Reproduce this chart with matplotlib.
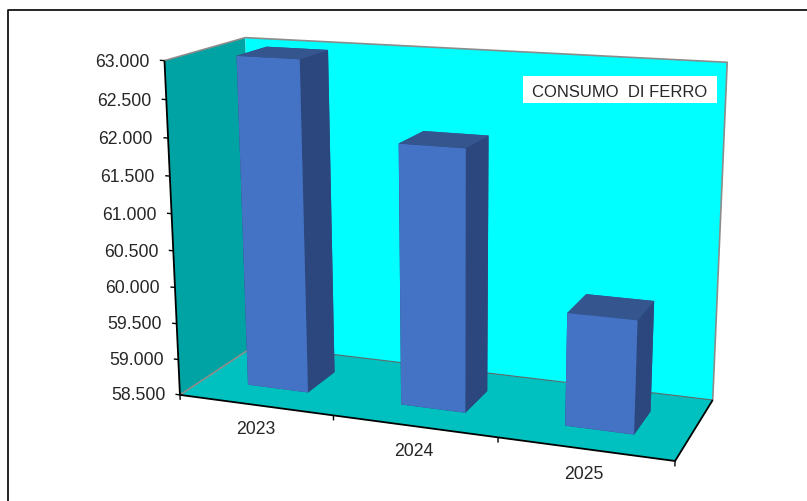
import numpy as np
import matplotlib
matplotlib.use('Agg')
import matplotlib.pyplot as plt
from matplotlib.lines import Line2D
from matplotlib.patches import Rectangle
from mpl_toolkits.mplot3d import art3d, proj3d

years = ['2023', '2024', '2025']
consumo = [63000, 62000, 60000]
value_ticks = [58500, 59000, 59500, 60000, 60500, 61000, 61500, 62000, 62500, 63000]
z_min = 58500
z_max = 63000

plt.rcParams['font.family'] = ['Liberation Sans', 'DejaVu Sans']

# pixel position of the box corners, (x, depth, z) -> (u, v)
box_corners = [
    ((0, 0, 0), (179.5, 395)),
    ((0, 0, 1), (165, 60.5)),
    ((0, 1, 0), (256, 345)),
    ((0, 1, 1), (244.7, 37.7)),
    ((3, 1, 0), (712.7, 400)),
    ((3, 1, 1), (727.3, 62.3)),
    ((3, 0, 0), (675, 461)),
]

def camera_matrix(corners):
    rows = []
    for (X, Y, Z), (u, v) in corners:
        rows.append([X, Y, Z, 1, 0, 0, 0, 0, -u*X, -u*Y, -u*Z, -u])
        rows.append([0, 0, 0, 0, X, Y, Z, 1, -v*X, -v*Y, -v*Z, -v])
    vt = np.linalg.svd(np.array(rows, dtype=float))[2]
    P = vt[-1].reshape(3, 4)
    return P / P[2, 3]

P = camera_matrix(box_corners)
to_unit = np.array([[1, 0, 0, 0], [0, 1, 0, 0],
                    [0, 0, 1 / (z_max - z_min), -z_min / (z_max - z_min)],
                    [0, 0, 0, 1.0]])
# third row is only the depth used to sort the faces, camera sits above and to the right
M = np.vstack([P[0], P[1], [-0.1, 1, -1, 0], P[2]]) @ to_unit

fig = plt.figure(figsize=(8.07, 5.01), dpi=100, facecolor='white')
ax = fig.add_axes([0, 0, 1, 1], projection='3d', computed_zorder=False)
# fixed camera, the 2d side of the axes is in pixels
ax.get_proj = lambda: M
ax.apply_aspect = lambda position=None: None
ax.viewLim.intervalx = (0, 807)
ax.viewLim.intervaly = (501, 0)
ax.set_axis_off()
ax.patch.set_visible(False)

def wall(verts, color):
    poly = art3d.Poly3DCollection([verts], facecolors=color, edgecolors='none', zorder=1)
    ax.add_collection3d(poly)

def lines(segments, color, width, order=3):
    col = art3d.Line3DCollection(segments, colors=color, linewidths=width, zorder=order)
    ax.add_collection3d(col, autolim=False)

def label(x, y, z, text, ha):
    u, v, _ = proj3d.proj_transform(x, y, z, M)
    ax.text2D(u, v, text, transform=ax.transData, ha=ha, va='center',
              fontsize=12.7, color='#262626', zorder=5)

wall([(0, 0, z_min), (0, 1, z_min), (3, 1, z_min), (3, 0, z_min)], '#00C0C0')
wall([(0, 0, z_min), (0, 1, z_min), (0, 1, z_max), (0, 0, z_max)], '#00A3A3')
wall([(0, 1, z_min), (3, 1, z_min), (3, 1, z_max), (0, 1, z_max)], '#00FFFF')

# grey outline of the walls
lines([[(0, 0, z_max), (0, 1, z_max), (3, 1, z_max), (3, 1, z_min)],
       [(0, 0, z_min), (0, 1, z_min)]], '#8c8c8c', 1.2, order=2)
lines([[(0, 1, z_min), (3, 1, z_min)]], '#5a6a6a', 0.8, order=2)

# axis lines and ticks
lines([[(0, 0, z_min), (0, 0, z_max)],
       [(0, 0, z_min), (3, 0, z_min), (3, 1, z_min)]], 'black', 1.3)
lines([[(-0.03, 0, v), (0, 0, v)] for v in value_ticks], 'black', 1)
lines([[(k, 0, z_min), (k, 0, z_min - 70)] for k in range(4)], 'black', 1)

for v in value_ticks:
    label(-0.099, 0, v - 40, f'{v:,}'.replace(',', '.'), 'right')
for k, year in enumerate(years):
    label(k + 0.497, 0, z_min - 340, year, 'center')

bar_x = np.arange(3) + 0.3
# faces in bar3d order: bottom, top, front, back, left, right
face_colors = ['#2B477D', '#35558F', '#4472C4', '#35558F', '#2B477D', '#2B477D']
ax.bar3d(bar_x, [0.3] * 3, [z_min] * 3, 0.4, 0.39, np.array(consumo) - z_min,
         color=face_colors * 3, shade=False, zorder=4)

fig.add_artist(Line2D([7.5 / 807, 7.5 / 807, 1], [0, 1 - 9.5 / 501, 1 - 9.5 / 501],
                      color='black', lw=1.2, transform=fig.transFigure))
fig.add_artist(Rectangle((523 / 807, 1 - 102.7 / 501), 194 / 807, 26.7 / 501, facecolor='white',
                         edgecolor='none', transform=fig.transFigure, zorder=5))
fig.text(620 / 807, 1 - 92.5 / 501, 'CONSUMO  DI FERRO', ha='center', va='center', fontsize=12,
         color='#262626', zorder=6)

fig.savefig('out.png', dpi=100)
